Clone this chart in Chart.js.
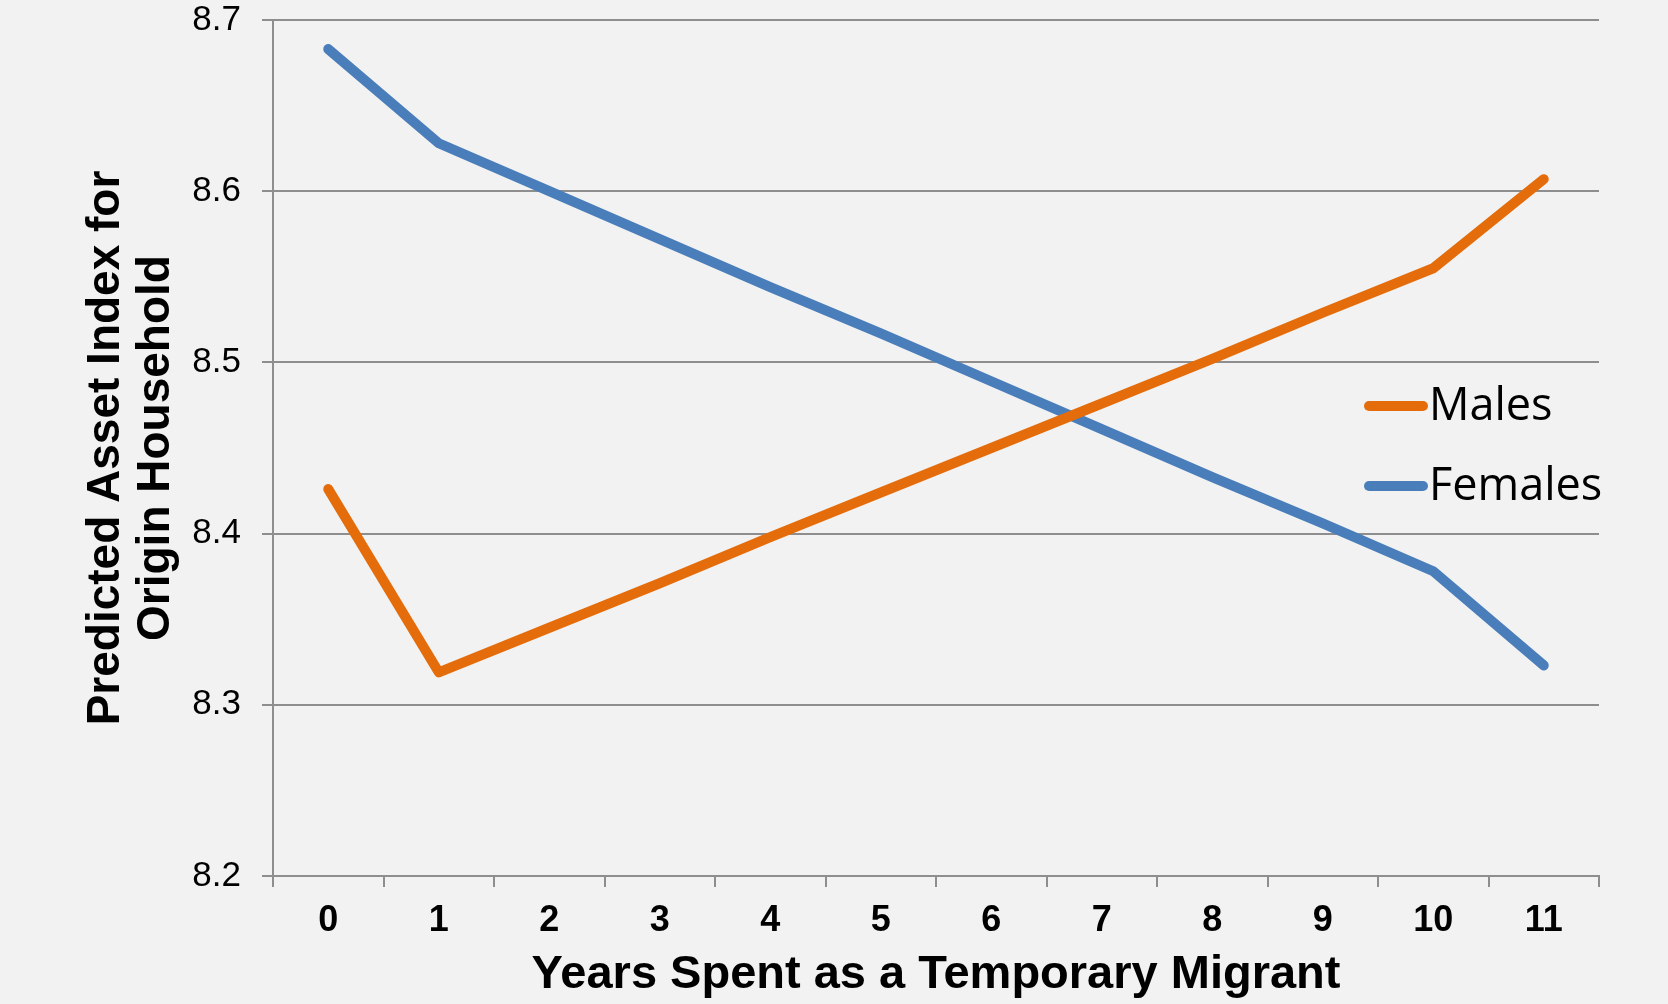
<!DOCTYPE html>
<html>
<head>
<meta charset="utf-8">
<script src="https://cdn.jsdelivr.net/npm/chart.js@4"></script>
<style>
  html, body { margin: 0; padding: 0; background: #f2f2f2; }
  #wrap { width: 1668px; height: 1004px; }
</style>
</head>
<body>
<div id="wrap"><canvas id="assetChart" width="1668" height="1004"></canvas></div>
<script>
// years spent as temporary migrant
const years = ['0', '1', '2', '3', '4', '5', '6', '7', '8', '9', '10', '11'];
// predicted asset index
const males = [8.426, 8.319, 8.345, 8.371, 8.398, 8.424, 8.450, 8.476, 8.502, 8.529, 8.555, 8.607];
const females = [8.683, 8.628, 8.600, 8.572, 8.544, 8.517, 8.489, 8.461, 8.433, 8.406, 8.378, 8.323];
const yMin = 8.2;
const yMax = 8.7;

const gridGray = '#8e8e8e';

// fond gris clair
const bgPlugin = {
    id: 'bg',
    beforeDraw: (chart) => {
        const c = chart.ctx;
        c.save();
        c.fillStyle = '#f2f2f2';
        c.fillRect(0, 0, chart.width, chart.height);
        c.restore();
    }
};

// legende dans la zone du graphique, a droite
const insideLegend = {
    id: 'insideLegend',
    afterDraw: (chart) => {
        const c = chart.ctx;
        const area = chart.chartArea;
        const x0 = area.right - 230;
        const rows = [406, 486];
        c.save();
        chart.data.datasets.forEach((ds, i) => {
            const y = rows[i];
            c.strokeStyle = ds.borderColor;
            c.lineWidth = 10;
            c.lineCap = 'round';
            c.beginPath();
            c.moveTo(x0, y);
            c.lineTo(x0 + 54, y);
            c.stroke();
            c.fillStyle = '#000';
            c.font = '45px "Open Sans"';
            c.textAlign = 'left';
            c.textBaseline = 'middle';
            c.fillText(ds.label, x0 + 60, y + 1);
        });
        c.restore();
    }
};

const ctx = document.getElementById('assetChart').getContext('2d');
new Chart(ctx, {
    type: 'line',
    data: {
        labels: years,
        datasets: [{
            label: 'Males',
            data: males,
            borderColor: '#e46c0a',
            backgroundColor: '#e46c0a',
            borderWidth: 10,
            borderCapStyle: 'round',
            borderJoinStyle: 'round',
            pointRadius: 0,
            tension: 0
        }, {
            label: 'Females',
            data: females,
            borderColor: '#4a7ebb',
            backgroundColor: '#4a7ebb',
            borderWidth: 10,
            borderCapStyle: 'round',
            borderJoinStyle: 'round',
            pointRadius: 0,
            tension: 0
        }]
    },
    options: {
        responsive: false,
        animation: false,
        layout: { padding: { top: 20, right: 69, bottom: 0, left: 0 } },
        plugins: {
            legend: { display: false },
            tooltip: { enabled: false }
        },
        scales: {
            x: {
                type: 'category',
                offset: true,
                afterFit: (scale) => { scale.height = 128; },
                grid: {
                    offset: true,
                    drawOnChartArea: false,
                    drawTicks: true,
                    tickLength: 11,
                    color: gridGray,
                    lineWidth: 2
                },
                border: { display: true, color: gridGray, width: 2 },
                ticks: {
                    color: '#000',
                    padding: 12,
                    maxRotation: 0,
                    font: { family: '"Liberation Sans", Arial', size: 36, weight: 'bold', lineHeight: 1.2 }
                },
                title: {
                    display: true,
                    text: 'Years Spent as a Temporary Migrant',
                    color: '#000',
                    padding: { top: 0, bottom: 5 },
                    font: { family: '"Liberation Sans", Arial', size: 47, weight: 'bold', lineHeight: 1.0 }
                }
            },
            y: {
                min: yMin,
                max: yMax,
                afterFit: (scale) => {
                    scale.width = 273;
                    scale.paddingTop = 0;
                    scale.paddingBottom = 0;
                },
                grid: {
                    color: gridGray,
                    lineWidth: 2,
                    tickLength: 11
                },
                border: { display: true, color: gridGray, width: 2 },
                ticks: {
                    stepSize: 0.1,
                    color: '#000',
                    padding: 21,
                    callback: (v) => Number(v).toFixed(1),
                    font: { family: '"Liberation Sans", Arial', size: 35 }
                },
                title: {
                    display: true,
                    text: ['Predicted Asset Index for', 'Origin Household'],
                    color: '#000',
                    padding: { top: 81, bottom: 0 },
                    font: { family: '"Liberation Sans", Arial', size: 46, weight: 'bold', lineHeight: 50 / 46 }
                }
            }
        }
    },
    plugins: [bgPlugin, insideLegend]
});
</script>
</body>
</html>
